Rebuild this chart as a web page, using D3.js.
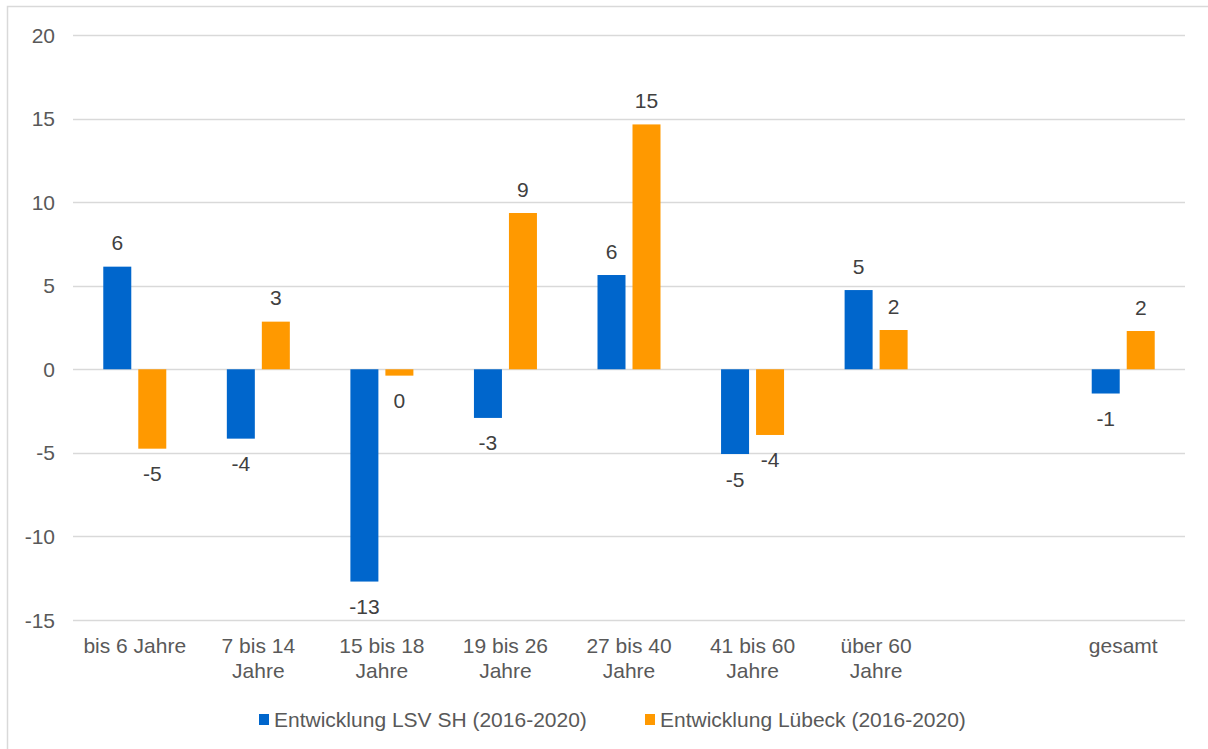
<!DOCTYPE html>
<html>
<head>
<meta charset="utf-8">
<script src="https://cdn.jsdelivr.net/npm/d3@7"></script>
<style>
  html, body { margin: 0; padding: 0; background: #fff; }
  svg { display: block; font-family: "Liberation Sans", Arial, sans-serif; }
</style>
</head>
<body>
<svg id="chart" width="1208" height="749"></svg>
<script>
const categories = ["bis 6 Jahre", "7 bis 14 Jahre", "15 bis 18 Jahre", "19 bis 26 Jahre", "27 bis 40 Jahre", "41 bis 60 Jahre", "über 60 Jahre", "", "gesamt"];
const seriesNames = ["Entwicklung LSV SH (2016-2020)", "Entwicklung Lübeck (2016-2020)"];
const lsvValues = [6.14, -4.15, -12.70, -2.91, 5.64, -5.07, 4.74, null, -1.45];
const luebeckValues = [-4.75, 2.85, -0.38, 9.35, 14.65, -3.93, 2.35, null, 2.29];
const yTicks = [-15, -10, -5, 0, 5, 10, 15, 20];
const colors = ["#0066CC", "#FF9900"];

const svg = d3.select("#chart");
const W = 1208, H = 749;
const textColor = "#595959";
const fontSize = 21;

// outer border
svg.append("rect")
  .attr("x", 7.5).attr("y", 6.5)
  .attr("width", 1210).attr("height", 760)
  .attr("fill", "none").attr("stroke", "#D9D9D9").attr("stroke-width", 1.5);

const plot = { left: 73, right: 1185, top: 35, bottom: 620 };

const x = d3.scaleBand().domain(d3.range(categories.length))
  .range([plot.left, plot.right]).paddingInner(0).paddingOuter(0);
const y = d3.scaleLinear().domain([-15, 20]).range([plot.bottom, plot.top]);

// gridlines
svg.append("g").selectAll("line").data(yTicks).join("line")
  .attr("x1", plot.left).attr("x2", plot.right)
  .attr("y1", d => Math.round(y(d)) + 0.5).attr("y2", d => Math.round(y(d)) + 0.5)
  .attr("stroke", "#D9D9D9").attr("stroke-width", 1.5);

// y tick labels
svg.append("g").selectAll("text").data(yTicks).join("text")
  .attr("x", 55).attr("y", d => y(d))
  .attr("text-anchor", "end").attr("dominant-baseline", "central")
  .attr("fill", textColor).attr("font-size", fontSize)
  .text(d => d);

// bars
const barW = 28, gap = 7;
const groupW = barW * 2 + gap;
const series = [lsvValues, luebeckValues];
const fmt = v => String(Math.round(v) + 0);

series.forEach((vals, si) => {
  const data = vals.map((v, i) => ({ v, i })).filter(d => d.v !== null);
  const g = svg.append("g");
  g.selectAll("rect").data(data).join("rect")
    .attr("x", d => x(d.i) + x.bandwidth() / 2 - groupW / 2 + si * (barW + gap))
    .attr("width", barW)
    .attr("y", d => y(Math.max(0, d.v)))
    .attr("height", d => Math.abs(y(d.v) - y(0)))
    .attr("fill", colors[si]);
  g.selectAll("text").data(data).join("text")
    .attr("x", d => x(d.i) + x.bandwidth() / 2 - groupW / 2 + si * (barW + gap) + barW / 2)
    .attr("y", d => d.v >= 0 ? y(d.v) - 24 : y(d.v) + 25)
    .attr("text-anchor", "middle").attr("dominant-baseline", "central")
    .attr("fill", "#404040").attr("font-size", fontSize)
    .text(d => fmt(d.v));
});

// x category labels (wrapped)
const xl = svg.append("g");
categories.forEach((c, i) => {
  if (!c) return;
  const t = xl.append("text")
    .attr("x", x(i) + x.bandwidth() / 2).attr("y", 653)
    .attr("text-anchor", "middle").attr("fill", textColor).attr("font-size", fontSize);
  const words = c.split(" ");
  let line = [];
  let tspan = t.append("tspan").attr("x", x(i) + x.bandwidth() / 2).attr("dy", 0);
  let lineNo = 0;
  words.forEach(w => {
    line.push(w);
    tspan.text(line.join(" "));
    if (tspan.node().getComputedTextLength() > x.bandwidth() - 8 && line.length > 1) {
      line.pop();
      tspan.text(line.join(" "));
      line = [w];
      lineNo++;
      tspan = t.append("tspan").attr("x", x(i) + x.bandwidth() / 2).attr("dy", 24.5).text(w);
    }
  });
});

// legend
const legendItems = [{ name: seriesNames[0], color: colors[0], x: 259 }, { name: seriesNames[1], color: colors[1], x: 645 }];
const lg = svg.append("g");
legendItems.forEach(it => {
  lg.append("rect").attr("x", it.x).attr("y", 714).attr("width", 10).attr("height", 11).attr("fill", it.color);
  lg.append("text").attr("x", it.x + 15).attr("y", 719.5)
    .attr("dominant-baseline", "central").attr("fill", textColor).attr("font-size", fontSize)
    .text(it.name);
});
</script>
</body>
</html>
